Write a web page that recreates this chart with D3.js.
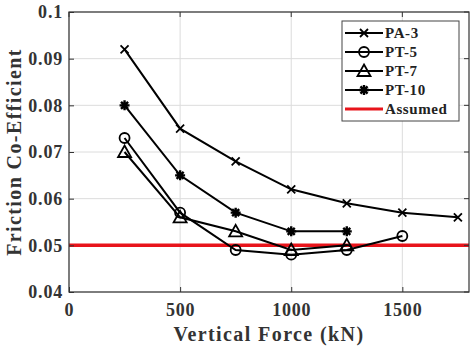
<!DOCTYPE html>
<html>
<head>
<meta charset="utf-8">
<script src="https://cdn.jsdelivr.net/npm/d3@7"></script>
<style>
  body { margin: 0; background: #fff; }
  text { font-family: "Liberation Serif", "Times New Roman", serif; font-weight: bold; }
</style>
</head>
<body>
<div id="chart"></div>
<script>
// data
const forces = [250, 500, 750, 1000, 1250, 1500, 1750];
const pa3 = [0.092, 0.075, 0.068, 0.062, 0.059, 0.057, 0.056];
const pt5 = [0.073, 0.057, 0.049, 0.048, 0.049, 0.052];
const pt7 = [0.070, 0.056, 0.053, 0.049, 0.050];
const pt10 = [0.080, 0.065, 0.057, 0.053, 0.053];
const assumed = 0.05;
const xTicks = [0, 500, 1000, 1500];
const yTicks = [0.04, 0.05, 0.06, 0.07, 0.08, 0.09, 0.1];

const series = [
    { name: 'PA-3', values: pa3, marker: 'x' },
    { name: 'PT-5', values: pt5, marker: 'circle' },
    { name: 'PT-7', values: pt7, marker: 'triangle' },
    { name: 'PT-10', values: pt10, marker: 'star' }
];

const width = 474, height = 347;
const margin = { top: 12, right: 5, bottom: 55, left: 69 };

const svg = d3.select('#chart').append('svg')
    .attr('width', width)
    .attr('height', height);

const x = d3.scaleLinear().domain([0, 1800]).range([margin.left, width - margin.right]);
const y = d3.scaleLinear().domain([0.04, 0.1]).range([height - margin.bottom, margin.top]);

// grid
const grid = svg.append('g');
xTicks.forEach(t => {
    grid.append('line')
        .attr('x1', x(t)).attr('x2', x(t))
        .attr('y1', y(0.04)).attr('y2', y(0.1))
        .style('stroke', '#dcdcdc').style('stroke-width', 1);
});
yTicks.forEach(t => {
    grid.append('line')
        .attr('x1', x(0)).attr('x2', x(1800))
        .attr('y1', y(t)).attr('y2', y(t))
        .style('stroke', '#dcdcdc').style('stroke-width', 1);
});

// assumed line
svg.append('line')
    .attr('x1', x(0)).attr('x2', x(1800))
    .attr('y1', y(assumed)).attr('y2', y(assumed))
    .style('stroke', '#e8141b').style('stroke-width', 3.5);

// axes
const xAxis = svg.append('g')
    .attr('transform', `translate(0,${y(0.04)})`)
    .call(d3.axisBottom(x).tickValues(xTicks).tickSize(-5).tickPadding(11).tickFormat(d3.format('d')));
const yAxis = svg.append('g')
    .attr('transform', `translate(${x(0)},0)`)
    .call(d3.axisLeft(y).tickValues(yTicks).tickSize(-5).tickPadding(6).tickFormat(d => d === 0.1 ? '0.1' : d3.format('.2f')(d)));
[xAxis, yAxis].forEach(a => {
    a.selectAll('text').style('font-size', '18px').style('letter-spacing', '0.8px').style('fill', '#333');
    a.selectAll('line').style('stroke', '#333');
    a.select('.domain').remove();
});

// box with top/right ticks
svg.append('rect')
    .attr('x', x(0)).attr('y', y(0.1))
    .attr('width', x(1800) - x(0)).attr('height', y(0.04) - y(0.1))
    .style('fill', 'none').style('stroke', '#333').style('stroke-width', 1.2);
xTicks.forEach(t => {
    svg.append('line')
        .attr('x1', x(t)).attr('x2', x(t))
        .attr('y1', y(0.1)).attr('y2', y(0.1) + 5)
        .style('stroke', '#333');
});
yTicks.forEach(t => {
    svg.append('line')
        .attr('x1', x(1800)).attr('x2', x(1800) - 5)
        .attr('y1', y(t)).attr('y2', y(t))
        .style('stroke', '#333');
});

// markers
function drawMarker(g, type, cx, cy) {
    if (type === 'x') {
        g.append('path')
            .attr('d', `M${cx - 4},${cy - 4}L${cx + 4},${cy + 4}M${cx - 4},${cy + 4}L${cx + 4},${cy - 4}`)
            .style('stroke', '#000').style('stroke-width', 1.8).style('fill', 'none');
    } else if (type === 'circle') {
        g.append('circle').attr('cx', cx).attr('cy', cy).attr('r', 5)
            .style('stroke', '#000').style('stroke-width', 1.8).style('fill', 'none');
    } else if (type === 'triangle') {
        g.append('path')
            .attr('d', `M${cx},${cy - 6.5}L${cx + 6.5},${cy + 5}L${cx - 6.5},${cy + 5}Z`)
            .style('stroke', '#000').style('stroke-width', 1.8).style('fill', 'none');
    } else if (type === 'star') {
        let d = '';
        for (let k = 0; k < 4; k++) {
            const a = k * Math.PI / 4;
            d += `M${cx - 5 * Math.cos(a)},${cy - 5 * Math.sin(a)}L${cx + 5 * Math.cos(a)},${cy + 5 * Math.sin(a)}`;
        }
        g.append('path').attr('d', d)
            .style('stroke', '#000').style('stroke-width', 2.4).style('fill', 'none');
    }
}

const line = d3.line().x(d => x(d[0])).y(d => y(d[1]));
series.forEach(s => {
    const pts = s.values.map((v, i) => [forces[i], v]);
    const g = svg.append('g');
    g.append('path').datum(pts).attr('d', line)
        .style('fill', 'none').style('stroke', '#000').style('stroke-width', 2);
    pts.forEach(p => drawMarker(g, s.marker, x(p[0]), y(p[1])));
});

// legend
const lg = svg.append('g').attr('transform', 'translate(342,21)');
lg.append('rect').attr('width', 117).attr('height', 100)
    .style('fill', '#fff').style('stroke', '#444').style('stroke-width', 1);
const legendItems = series.map(s => ({ name: s.name, marker: s.marker, color: '#000' }))
    .concat([{ name: 'Assumed', marker: null, color: '#e8141b' }]);
legendItems.forEach((item, i) => {
    const ly = 12 + i * 19;
    lg.append('line').attr('x1', 3).attr('x2', 41).attr('y1', ly).attr('y2', ly)
        .style('stroke', item.color).style('stroke-width', item.marker ? 2 : 3);
    if (item.marker) drawMarker(lg, item.marker, 22, ly);
    lg.append('text').attr('x', 43).attr('y', ly).attr('dy', '0.35em')
        .style('font-size', '15px').style('letter-spacing', '0.6px').style('fill', '#222').text(item.name);
});

// axis titles
svg.append('text')
    .attr('x', x(900)).attr('y', 341)
    .attr('text-anchor', 'middle')
    .style('font-size', '20px').style('letter-spacing', '1.4px').style('fill', '#333')
    .text('Vertical Force (kN)');
svg.append('text')
    .attr('transform', `translate(14,${y(0.07)}) rotate(-90)`)
    .attr('text-anchor', 'middle')
    .attr('dy', '0.35em')
    .style('font-size', '20px').style('letter-spacing', '1.4px').style('fill', '#333')
    .text('Friction Co-Efficient');
</script>
</body>
</html>
